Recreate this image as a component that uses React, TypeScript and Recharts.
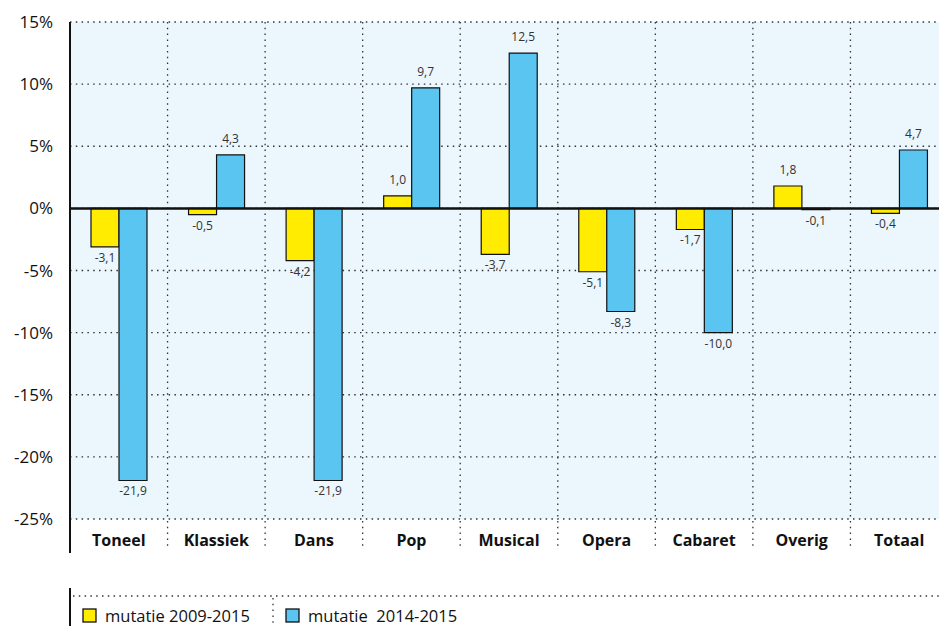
import React from "react";
import {
  BarChart,
  Bar,
  XAxis,
  YAxis,
  CartesianGrid,
  ReferenceLine,
  LabelList,
} from "recharts";

const categories = [
  "Toneel",
  "Klassiek",
  "Dans",
  "Pop",
  "Musical",
  "Opera",
  "Cabaret",
  "Overig",
  "Totaal",
];
const mutatie0915 = [-3.1, -0.5, -4.2, 1.0, -3.7, -5.1, -1.7, 1.8, -0.4];
const mutatie1415 = [-21.9, 4.3, -21.9, 9.7, 12.5, -8.3, -10.0, -0.1, 4.7];
const seriesNames = ["mutatie 2009-2015", "mutatie  2014-2015"];
const yTicks = [15, 10, 5, 0, -5, -10, -15, -20, -25];

const data = categories.map((name, i) => ({
  name,
  a: mutatie0915[i],
  b: mutatie1415[i],
}));

const CHART_W = 948;
const Y_AXIS_W = 70;

const YELLOW = "#ffec00";
const BLUE = "#5bc5f1";
const BG = "#ebf6fd";
const INK = "#111111";
const DOT = "#333333";
const DASH = "1.5 4.3";
const FONT = "'Open Sans', 'Noto Sans', sans-serif";

const fmt = (v: number) => v.toFixed(1).replace(".", ",");

function ValueLabel(props: any) {
  const { x, y, width, height, value } = props;
  const top = Math.min(y, y + height);
  const bottom = Math.max(y, y + height);
  const cx = x + width / 2;
  const ty = value >= 0 ? top - 12 : bottom + 15;
  return (
    <text
      x={cx}
      y={ty}
      textAnchor="middle"
      style={{ fontSize: 12, fontFamily: FONT, fill: "#333" }}
    >
      {fmt(value)}
    </text>
  );
}

// category label, plus the band's left edge carried down through the label row
function CategoryTick(props: any) {
  const { x, y, payload, index } = props;
  const half = (CHART_W - Y_AXIS_W) / categories.length / 2;
  const edge = x - half;
  return (
    <g>
      {index === 0 ? (
        <line x1={edge} y1={y - 2} x2={edge} y2={y + 34} stroke={INK} strokeWidth={2} />
      ) : (
        <line
          x1={edge}
          y1={y + 2}
          x2={edge}
          y2={y + 28}
          stroke={DOT}
          strokeWidth={1.3}
          strokeDasharray={DASH}
        />
      )}
      <text
        x={x}
        y={y + 27}
        textAnchor="middle"
        style={{ fontSize: 16, fontWeight: 700, fontFamily: FONT, fill: INK }}
      >
        {payload.value}
      </text>
    </g>
  );
}

function LegendStrip() {
  const colors = [YELLOW, BLUE];
  const itemX = [83, 286];
  return (
    <svg
      width={939}
      height={38}
      style={{ position: "absolute", left: 0, top: 588, display: "block" }}
    >
      <line x1={70} y1={0} x2={70} y2={38} stroke={INK} strokeWidth={2} />
      <line
        x1={73}
        y1={8}
        x2={939}
        y2={8}
        stroke={DOT}
        strokeWidth={1.3}
        strokeDasharray={DASH}
      />
      <line
        x1={273}
        y1={10}
        x2={273}
        y2={38}
        stroke={DOT}
        strokeWidth={1.3}
        strokeDasharray={DASH}
      />
      {seriesNames.map((name, i) => (
        <g key={name}>
          <rect
            x={itemX[i]}
            y={21}
            width={13}
            height={13}
            fill={colors[i]}
            stroke={INK}
            strokeWidth={1.3}
          />
          <text
            x={itemX[i] + 22}
            y={34}
            style={{
              fontSize: 16.5,
              fontFamily: FONT,
              fill: INK,
              whiteSpace: "pre",
            }}
          >
            {name}
          </text>
        </g>
      ))}
    </svg>
  );
}

export default function App() {
  return (
    <div
      style={{
        position: "fixed",
        left: 0,
        top: 0,
        width: 939,
        height: 626,
        overflow: "hidden",
        background: "#fff",
        fontFamily: FONT,
      }}
    >
      <BarChart
        width={CHART_W}
        height={626}
        data={data}
        margin={{ top: 22, right: 0, bottom: 67, left: 0 }}
        barSize={28}
        barGap={0}
      >
        <CartesianGrid
          stroke={DOT}
          strokeWidth={1.3}
          strokeDasharray={DASH}
          fill={BG}
          fillOpacity={1}
          verticalCoordinatesGenerator={({ offset }: any) =>
            categories.slice(1).map(
              (_, i) => offset.left + (offset.width * (i + 1)) / categories.length
            )
          }
        />
        <XAxis
          dataKey="name"
          axisLine={false}
          tickLine={false}
          tickSize={0}
          tickMargin={0}
          height={40}
          interval={0}
          tick={<CategoryTick />}
        />
        <YAxis
          width={Y_AXIS_W}
          domain={[-25, 15]}
          ticks={yTicks}
          interval={0}
          axisLine={{ stroke: INK, strokeWidth: 2 }}
          tickLine={false}
          tickSize={0}
          tickMargin={17}
          tickFormatter={(v: number) => `${v}%`}
          tick={{ fontSize: 17, fontFamily: FONT, fill: INK }}
        />
        <Bar
          dataKey="a"
          name={seriesNames[0]}
          fill={YELLOW}
          stroke={INK}
          strokeWidth={1.2}
          isAnimationActive={false}
        >
          <LabelList dataKey="a" content={<ValueLabel />} />
        </Bar>
        <Bar
          dataKey="b"
          name={seriesNames[1]}
          fill={BLUE}
          stroke={INK}
          strokeWidth={1.2}
          isAnimationActive={false}
        >
          <LabelList dataKey="b" content={<ValueLabel />} />
        </Bar>
        <ReferenceLine y={0} stroke={INK} strokeWidth={2.5} />
      </BarChart>
      <LegendStrip />
    </div>
  );
}
